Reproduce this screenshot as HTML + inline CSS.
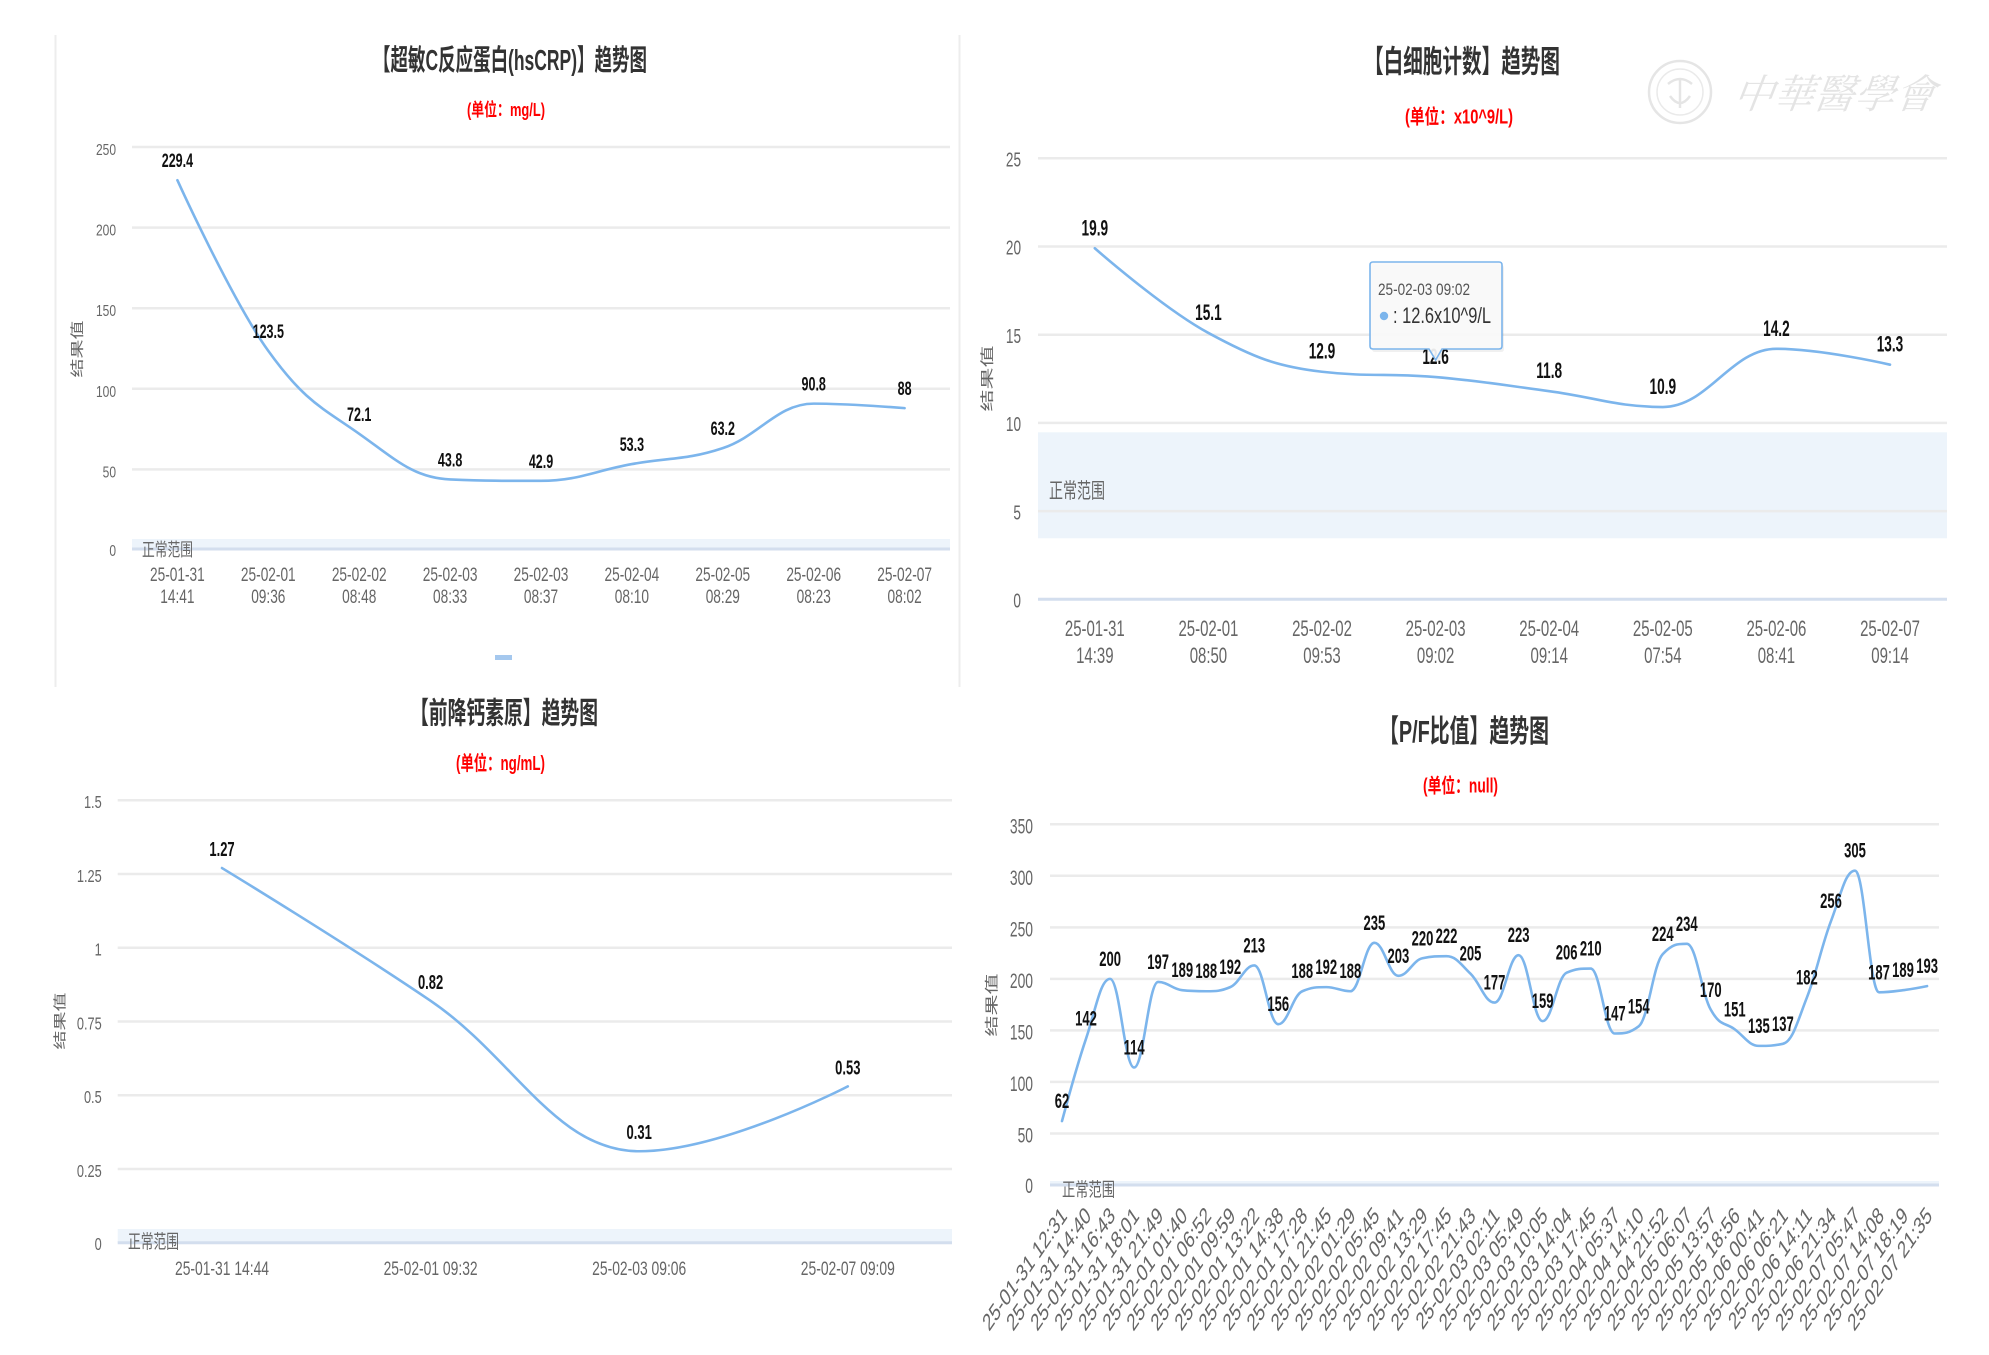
<!DOCTYPE html>
<html><head><meta charset="utf-8">
<style>
html,body{margin:0;padding:0;background:#fff;}
svg{display:block;}
text{font-family:"Liberation Sans","Noto Sans CJK SC",sans-serif;}
.ti{font-weight:bold;fill:#333;}
.un{font-weight:bold;fill:#ff0000;}
.tk{fill:#666;}
.dl{font-weight:bold;fill:#111;}
.nr{fill:#666;}
.grid{stroke:#ebebeb;stroke-width:2.5;}
.ax{stroke:#d3deee;stroke-width:3;}
.band{fill:#edf4fb;}
.ln{fill:none;stroke:#7cb5ec;stroke-width:2.6;stroke-linejoin:round;stroke-linecap:round;}
</style></head>
<body>
<svg id="s" width="1989" height="1355" viewBox="0 0 1989 1355" xmlns="http://www.w3.org/2000/svg">
<rect width="1989" height="1355" fill="#fff"/>

<!-- panel borders -->
<line x1="55.5" y1="35" x2="55.5" y2="687" stroke="#ededed" stroke-width="2"/>
<line x1="959.5" y1="35" x2="959.5" y2="687" stroke="#ededed" stroke-width="2"/>

<!-- ============ CHART 1 hsCRP ============ -->
<text class="ti" x="373" y="70" font-size="29" textLength="274" lengthAdjust="spacingAndGlyphs">【超敏C反应蛋白(hsCRP)】趋势图</text>
<text class="un" x="467" y="116" font-size="18" textLength="78" lengthAdjust="spacingAndGlyphs">(单位：mg/L)</text>
<rect class="band" x="132" y="539" width="818" height="10"/>
<line class="grid" x1="132" y1="147" x2="950" y2="147"/>
<line class="grid" x1="132" y1="227.6" x2="950" y2="227.6"/>
<line class="grid" x1="132" y1="308.2" x2="950" y2="308.2"/>
<line class="grid" x1="132" y1="388.8" x2="950" y2="388.8"/>
<line class="grid" x1="132" y1="469.4" x2="950" y2="469.4"/>
<line class="ax" x1="132" y1="549" x2="950" y2="549" stroke-width="2"/>
<g class="tk" font-size="16" text-anchor="end">
<text transform="translate(116,155) scale(0.75,1)">250</text>
<text transform="translate(116,235.6) scale(0.75,1)">200</text>
<text transform="translate(116,316.2) scale(0.75,1)">150</text>
<text transform="translate(116,396.8) scale(0.75,1)">100</text>
<text transform="translate(116,477.4) scale(0.75,1)">50</text>
<text transform="translate(116,556) scale(0.75,1)">0</text>
</g>
<text class="nr" x="142" y="556" font-size="18" textLength="51" lengthAdjust="spacingAndGlyphs">正常范围</text>
<text class="tk" transform="translate(82,349) scale(0.72,1) rotate(-90)" font-size="19" text-anchor="middle">结果值</text>
<g class="tk" font-size="19" text-anchor="middle">
<text transform="translate(177.4,581) scale(0.72,1)">25-01-31</text>
<text transform="translate(177.4,603) scale(0.72,1)">14:41</text>
<text transform="translate(268.3,581) scale(0.72,1)">25-02-01</text>
<text transform="translate(268.3,603) scale(0.72,1)">09:36</text>
<text transform="translate(359.2,581) scale(0.72,1)">25-02-02</text>
<text transform="translate(359.2,603) scale(0.72,1)">08:48</text>
<text transform="translate(450.1,581) scale(0.72,1)">25-02-03</text>
<text transform="translate(450.1,603) scale(0.72,1)">08:33</text>
<text transform="translate(541,581) scale(0.72,1)">25-02-03</text>
<text transform="translate(541,603) scale(0.72,1)">08:37</text>
<text transform="translate(631.9,581) scale(0.72,1)">25-02-04</text>
<text transform="translate(631.9,603) scale(0.72,1)">08:10</text>
<text transform="translate(722.8,581) scale(0.72,1)">25-02-05</text>
<text transform="translate(722.8,603) scale(0.72,1)">08:29</text>
<text transform="translate(813.7,581) scale(0.72,1)">25-02-06</text>
<text transform="translate(813.7,603) scale(0.72,1)">08:23</text>
<text transform="translate(904.6,581) scale(0.72,1)">25-02-07</text>
<text transform="translate(904.6,603) scale(0.72,1)">08:02</text>
</g>
<path id="l1" class="ln" d=""/>
<g class="dl" font-size="19" text-anchor="middle">
<text transform="translate(177.4,167.2) scale(0.66,1)">229.4</text>
<text transform="translate(268.3,337.9) scale(0.66,1)">123.5</text>
<text transform="translate(359.2,420.8) scale(0.66,1)">72.1</text>
<text transform="translate(450.1,466.4) scale(0.66,1)">43.8</text>
<text transform="translate(541,467.8) scale(0.66,1)">42.9</text>
<text transform="translate(631.9,451.1) scale(0.66,1)">53.3</text>
<text transform="translate(722.8,435.1) scale(0.66,1)">63.2</text>
<text transform="translate(813.7,390.6) scale(0.66,1)">90.8</text>
<text transform="translate(904.6,395.1) scale(0.66,1)">88</text>
</g>
<rect x="495" y="655" width="17" height="5" fill="#a5c8ee"/>

<!-- ============ CHART 2 WBC ============ -->
<!-- watermark -->
<g opacity="0.9">
<circle cx="1680" cy="92" r="31" fill="none" stroke="#e3e3e3" stroke-width="2.5"/>
<circle cx="1680" cy="92" r="23" fill="none" stroke="#e8e8e8" stroke-width="1.5"/>
<path d="M1668,84 Q1680,74 1692,84 M1680,78 L1680,108 M1670,96 Q1680,110 1690,96" fill="none" stroke="#e3e3e3" stroke-width="2.5"/>
<text x="1733" y="108" font-size="40" fill="#e2e2e2" textLength="202" lengthAdjust="spacingAndGlyphs" style="font-family:'Noto Serif CJK TC','Noto Serif CJK SC',serif;font-style:italic" transform="skewX(-8) translate(14,0)">中華醫學會</text>
</g>
<text class="ti" x="1364" y="72.5" font-size="31" textLength="196" lengthAdjust="spacingAndGlyphs">【白细胞计数】趋势图</text>
<text class="un" x="1405" y="123.5" font-size="20" textLength="108" lengthAdjust="spacingAndGlyphs">(单位：x10^9/L)</text>
<rect class="band" x="1038" y="432.3" width="909" height="106"/>
<line class="grid" x1="1038" y1="158.3" x2="1947" y2="158.3"/>
<line class="grid" x1="1038" y1="246.5" x2="1947" y2="246.5"/>
<line class="grid" x1="1038" y1="334.7" x2="1947" y2="334.7"/>
<line class="grid" x1="1038" y1="422.9" x2="1947" y2="422.9"/>
<line class="grid" x1="1038" y1="511.1" x2="1947" y2="511.1" stroke="#e6ebf0"/>
<line class="ax" x1="1038" y1="599.3" x2="1947" y2="599.3"/>
<g class="tk" font-size="20" text-anchor="end">
<text transform="translate(1021,166.5) scale(0.68,1)">25</text>
<text transform="translate(1021,254.7) scale(0.68,1)">20</text>
<text transform="translate(1021,342.9) scale(0.68,1)">15</text>
<text transform="translate(1021,431.1) scale(0.68,1)">10</text>
<text transform="translate(1021,519.3) scale(0.68,1)">5</text>
<text transform="translate(1021,607.5) scale(0.68,1)">0</text>
</g>
<text class="nr" x="1049" y="498" font-size="21" textLength="56" lengthAdjust="spacingAndGlyphs">正常范围</text>
<text class="tk" transform="translate(992,378.5) scale(0.62,1) rotate(-90)" font-size="22" text-anchor="middle">结果值</text>
<g class="tk" font-size="22" text-anchor="middle">
<text transform="translate(1094.8,636) scale(0.68,1)">25-01-31</text>
<text transform="translate(1094.8,663) scale(0.68,1)">14:39</text>
<text transform="translate(1208.4,636) scale(0.68,1)">25-02-01</text>
<text transform="translate(1208.4,663) scale(0.68,1)">08:50</text>
<text transform="translate(1322,636) scale(0.68,1)">25-02-02</text>
<text transform="translate(1322,663) scale(0.68,1)">09:53</text>
<text transform="translate(1435.6,636) scale(0.68,1)">25-02-03</text>
<text transform="translate(1435.6,663) scale(0.68,1)">09:02</text>
<text transform="translate(1549.2,636) scale(0.68,1)">25-02-04</text>
<text transform="translate(1549.2,663) scale(0.68,1)">09:14</text>
<text transform="translate(1662.8,636) scale(0.68,1)">25-02-05</text>
<text transform="translate(1662.8,663) scale(0.68,1)">07:54</text>
<text transform="translate(1776.4,636) scale(0.68,1)">25-02-06</text>
<text transform="translate(1776.4,663) scale(0.68,1)">08:41</text>
<text transform="translate(1890,636) scale(0.68,1)">25-02-07</text>
<text transform="translate(1890,663) scale(0.68,1)">09:14</text>
</g>
<path id="l2" class="ln" d="" stroke-width="3"/>
<g class="dl" font-size="22" text-anchor="middle">
<text transform="translate(1094.8,235.3) scale(0.62,1)">19.9</text>
<text transform="translate(1208.4,319.9) scale(0.62,1)">15.1</text>
<text transform="translate(1322,358.7) scale(0.62,1)">12.9</text>
<text transform="translate(1435.6,364) scale(0.62,1)">12.6</text>
<text transform="translate(1549.2,378.1) scale(0.62,1)">11.8</text>
<text transform="translate(1662.8,394) scale(0.62,1)">10.9</text>
<text transform="translate(1776.4,335.8) scale(0.62,1)">14.2</text>
<text transform="translate(1890,351.7) scale(0.62,1)">13.3</text>
</g>
<!-- tooltip -->
<path d="M1375,265 H1501 Q1504,265 1504,268 V349 Q1504,352 1501,352 H1444 L1437.6,363 L1431,352 H1375 Q1372,352 1372,349 V268 Q1372,265 1375,265 Z" fill="rgba(0,0,0,0.06)"/>
<path d="M1373,262 H1499 Q1502,262 1502,265 V346 Q1502,349 1499,349 H1442 L1435.6,360 L1429,349 H1373 Q1370,349 1370,346 V265 Q1370,262 1373,262 Z" fill="rgba(250,250,250,0.92)" stroke="#7cb5ec" stroke-width="1.6"/>
<text x="1378" y="295" font-size="17" fill="#555" textLength="92" lengthAdjust="spacingAndGlyphs">25-02-03 09:02</text>
<circle cx="1384" cy="316" r="4.2" fill="#7cb5ec"/>
<text x="1393" y="323" font-size="22" fill="#333" textLength="98" lengthAdjust="spacingAndGlyphs">: 12.6x10^9/L</text>

<!-- ============ CHART 3 PCT ============ -->
<text class="ti" x="410" y="723.5" font-size="30" textLength="188" lengthAdjust="spacingAndGlyphs">【前降钙素原】趋势图</text>
<text class="un" x="456" y="770" font-size="20" textLength="89" lengthAdjust="spacingAndGlyphs">(单位：ng/mL)</text>
<rect class="band" x="117.7" y="1229" width="834.3" height="14"/>
<line class="grid" x1="117.7" y1="800.2" x2="952" y2="800.2"/>
<line class="grid" x1="117.7" y1="873.95" x2="952" y2="873.95"/>
<line class="grid" x1="117.7" y1="947.7" x2="952" y2="947.7"/>
<line class="grid" x1="117.7" y1="1021.45" x2="952" y2="1021.45"/>
<line class="grid" x1="117.7" y1="1095.2" x2="952" y2="1095.2"/>
<line class="grid" x1="117.7" y1="1168.95" x2="952" y2="1168.95"/>
<line class="ax" x1="117.7" y1="1242.7" x2="952" y2="1242.7" stroke-width="2.5"/>
<g class="tk" font-size="18" text-anchor="end">
<text transform="translate(101.7,808.2) scale(0.71,1)">1.5</text>
<text transform="translate(101.7,882) scale(0.71,1)">1.25</text>
<text transform="translate(101.7,955.7) scale(0.71,1)">1</text>
<text transform="translate(101.7,1029.5) scale(0.71,1)">0.75</text>
<text transform="translate(101.7,1103.2) scale(0.71,1)">0.5</text>
<text transform="translate(101.7,1177) scale(0.71,1)">0.25</text>
<text transform="translate(101.7,1250) scale(0.71,1)">0</text>
</g>
<text class="nr" x="128" y="1248" font-size="19" textLength="51" lengthAdjust="spacingAndGlyphs">正常范围</text>
<text class="tk" transform="translate(64.3,1021) scale(0.7,1) rotate(-90)" font-size="19" text-anchor="middle">结果值</text>
<g class="tk" font-size="19" text-anchor="middle">
<text transform="translate(222,1275) scale(0.73,1)">25-01-31 14:44</text>
<text transform="translate(430.6,1275) scale(0.73,1)">25-02-01 09:32</text>
<text transform="translate(639.2,1275) scale(0.73,1)">25-02-03 09:06</text>
<text transform="translate(847.8,1275) scale(0.73,1)">25-02-07 09:09</text>
</g>
<path id="l3" class="ln" d=""/>
<g class="dl" font-size="20" text-anchor="middle">
<text transform="translate(222,856) scale(0.65,1)">1.27</text>
<text transform="translate(430.6,988.8) scale(0.65,1)">0.82</text>
<text transform="translate(639.2,1139.2) scale(0.65,1)">0.31</text>
<text transform="translate(847.8,1074.3) scale(0.65,1)">0.53</text>
</g>

<!-- ============ CHART 4 P/F ============ -->
<text class="ti" x="1379" y="742" font-size="31" textLength="170" lengthAdjust="spacingAndGlyphs">【P/F比值】趋势图</text>
<text class="un" x="1423" y="792.5" font-size="20" textLength="75" lengthAdjust="spacingAndGlyphs">(单位：null)</text>
<line class="grid" x1="1050" y1="824.3" x2="1939" y2="824.3"/>
<line class="grid" x1="1050" y1="875.8" x2="1939" y2="875.8"/>
<line class="grid" x1="1050" y1="927.35" x2="1939" y2="927.35"/>
<line class="grid" x1="1050" y1="978.9" x2="1939" y2="978.9"/>
<line class="grid" x1="1050" y1="1030.4" x2="1939" y2="1030.4"/>
<line class="grid" x1="1050" y1="1081.9" x2="1939" y2="1081.9"/>
<line class="grid" x1="1050" y1="1133.5" x2="1939" y2="1133.5"/>
<rect class="band" x="1050" y="1181" width="889" height="4"/>
<line class="ax" x1="1050" y1="1185" x2="1939" y2="1185"/>
<g class="tk" font-size="21" text-anchor="end">
<text transform="translate(1033,833.3) scale(0.66,1)">350</text>
<text transform="translate(1033,884.8) scale(0.66,1)">300</text>
<text transform="translate(1033,936.4) scale(0.66,1)">250</text>
<text transform="translate(1033,987.9) scale(0.66,1)">200</text>
<text transform="translate(1033,1039.4) scale(0.66,1)">150</text>
<text transform="translate(1033,1090.9) scale(0.66,1)">100</text>
<text transform="translate(1033,1142.5) scale(0.66,1)">50</text>
<text transform="translate(1033,1193) scale(0.66,1)">0</text>
</g>
<text class="nr" x="1062" y="1196" font-size="19" textLength="53" lengthAdjust="spacingAndGlyphs">正常范围</text>
<text class="tk" transform="translate(996.5,1005) scale(0.66,1) rotate(-90)" font-size="21" text-anchor="middle">结果值</text>
<g class="tk" font-size="24" text-anchor="end">
<text transform="translate(1068,1217) scale(0.685,1) rotate(-45)">25-01-31 12:31</text>
<text transform="translate(1092,1217) scale(0.685,1) rotate(-45)">25-01-31 14:40</text>
<text transform="translate(1116.1,1217) scale(0.685,1) rotate(-45)">25-01-31 16:43</text>
<text transform="translate(1140.1,1217) scale(0.685,1) rotate(-45)">25-01-31 18:01</text>
<text transform="translate(1164.1,1217) scale(0.685,1) rotate(-45)">25-01-31 21:49</text>
<text transform="translate(1188.2,1217) scale(0.685,1) rotate(-45)">25-02-01 01:40</text>
<text transform="translate(1212.2,1217) scale(0.685,1) rotate(-45)">25-02-01 06:52</text>
<text transform="translate(1236.2,1217) scale(0.685,1) rotate(-45)">25-02-01 09:59</text>
<text transform="translate(1260.2,1217) scale(0.685,1) rotate(-45)">25-02-01 13:22</text>
<text transform="translate(1284.3,1217) scale(0.685,1) rotate(-45)">25-02-01 14:38</text>
<text transform="translate(1308.3,1217) scale(0.685,1) rotate(-45)">25-02-01 17:28</text>
<text transform="translate(1332.3,1217) scale(0.685,1) rotate(-45)">25-02-01 21:45</text>
<text transform="translate(1356.4,1217) scale(0.685,1) rotate(-45)">25-02-02 01:29</text>
<text transform="translate(1380.4,1217) scale(0.685,1) rotate(-45)">25-02-02 05:45</text>
<text transform="translate(1404.4,1217) scale(0.685,1) rotate(-45)">25-02-02 09:41</text>
<text transform="translate(1428.5,1217) scale(0.685,1) rotate(-45)">25-02-02 13:29</text>
<text transform="translate(1452.5,1217) scale(0.685,1) rotate(-45)">25-02-02 17:45</text>
<text transform="translate(1476.5,1217) scale(0.685,1) rotate(-45)">25-02-02 21:43</text>
<text transform="translate(1500.5,1217) scale(0.685,1) rotate(-45)">25-02-03 02:11</text>
<text transform="translate(1524.6,1217) scale(0.685,1) rotate(-45)">25-02-03 05:49</text>
<text transform="translate(1548.6,1217) scale(0.685,1) rotate(-45)">25-02-03 10:05</text>
<text transform="translate(1572.6,1217) scale(0.685,1) rotate(-45)">25-02-03 14:04</text>
<text transform="translate(1596.7,1217) scale(0.685,1) rotate(-45)">25-02-03 17:45</text>
<text transform="translate(1620.7,1217) scale(0.685,1) rotate(-45)">25-02-04 05:37</text>
<text transform="translate(1644.7,1217) scale(0.685,1) rotate(-45)">25-02-04 14:10</text>
<text transform="translate(1668.8,1217) scale(0.685,1) rotate(-45)">25-02-04 21:52</text>
<text transform="translate(1692.8,1217) scale(0.685,1) rotate(-45)">25-02-05 06:07</text>
<text transform="translate(1716.8,1217) scale(0.685,1) rotate(-45)">25-02-05 13:57</text>
<text transform="translate(1740.8,1217) scale(0.685,1) rotate(-45)">25-02-05 18:56</text>
<text transform="translate(1764.9,1217) scale(0.685,1) rotate(-45)">25-02-06 00:41</text>
<text transform="translate(1788.9,1217) scale(0.685,1) rotate(-45)">25-02-06 06:21</text>
<text transform="translate(1812.9,1217) scale(0.685,1) rotate(-45)">25-02-06 14:11</text>
<text transform="translate(1837,1217) scale(0.685,1) rotate(-45)">25-02-06 21:34</text>
<text transform="translate(1861,1217) scale(0.685,1) rotate(-45)">25-02-07 05:47</text>
<text transform="translate(1885,1217) scale(0.685,1) rotate(-45)">25-02-07 14:08</text>
<text transform="translate(1909,1217) scale(0.685,1) rotate(-45)">25-02-07 18:19</text>
<text transform="translate(1933.1,1217) scale(0.685,1) rotate(-45)">25-02-07 21:35</text>
</g>
<path id="l4" class="ln" d=""/>
<g class="dl" font-size="21" text-anchor="middle">
<text transform="translate(1062,1108.1) scale(0.62,1)">62</text>
<text transform="translate(1086,1025.7) scale(0.62,1)">142</text>
<text transform="translate(1110.1,965.9) scale(0.62,1)">200</text>
<text transform="translate(1134.1,1054.5) scale(0.62,1)">114</text>
<text transform="translate(1158.1,969) scale(0.62,1)">197</text>
<text transform="translate(1182.2,977.2) scale(0.62,1)">189</text>
<text transform="translate(1206.2,978.2) scale(0.62,1)">188</text>
<text transform="translate(1230.2,974.1) scale(0.62,1)">192</text>
<text transform="translate(1254.2,952.5) scale(0.62,1)">213</text>
<text transform="translate(1278.3,1011.2) scale(0.62,1)">156</text>
<text transform="translate(1302.3,978.2) scale(0.62,1)">188</text>
<text transform="translate(1326.3,974.1) scale(0.62,1)">192</text>
<text transform="translate(1350.4,978.2) scale(0.62,1)">188</text>
<text transform="translate(1374.4,929.8) scale(0.62,1)">235</text>
<text transform="translate(1398.4,962.8) scale(0.62,1)">203</text>
<text transform="translate(1422.5,945.3) scale(0.62,1)">220</text>
<text transform="translate(1446.5,943.2) scale(0.62,1)">222</text>
<text transform="translate(1470.5,960.7) scale(0.62,1)">205</text>
<text transform="translate(1494.5,989.6) scale(0.62,1)">177</text>
<text transform="translate(1518.6,942.2) scale(0.62,1)">223</text>
<text transform="translate(1542.6,1008.1) scale(0.62,1)">159</text>
<text transform="translate(1566.6,959.7) scale(0.62,1)">206</text>
<text transform="translate(1590.7,955.6) scale(0.62,1)">210</text>
<text transform="translate(1614.7,1020.5) scale(0.62,1)">147</text>
<text transform="translate(1638.7,1013.3) scale(0.62,1)">154</text>
<text transform="translate(1662.8,941.1) scale(0.62,1)">224</text>
<text transform="translate(1686.8,930.8) scale(0.62,1)">234</text>
<text transform="translate(1710.8,996.8) scale(0.62,1)">170</text>
<text transform="translate(1734.8,1016.4) scale(0.62,1)">151</text>
<text transform="translate(1758.9,1032.9) scale(0.62,1)">135</text>
<text transform="translate(1782.9,1030.8) scale(0.62,1)">137</text>
<text transform="translate(1806.9,984.4) scale(0.62,1)">182</text>
<text transform="translate(1831,908.2) scale(0.62,1)">256</text>
<text transform="translate(1855,857.7) scale(0.62,1)">305</text>
<text transform="translate(1879,979.3) scale(0.62,1)">187</text>
<text transform="translate(1903,977.2) scale(0.62,1)">189</text>
<text transform="translate(1927.1,973.1) scale(0.62,1)">193</text>
</g>
</svg>
<script>
function spline(p){
  var s=1.5,dn=s+1,d='M'+p[0][0].toFixed(2)+' '+p[0][1].toFixed(2),prev=null;
  for(var i=1;i<p.length;i++){
    var x=p[i][0],y=p[i][1],lx=p[i-1][0],ly=p[i-1][1],lcx=x,lcy=y,rc=null;
    if(i<p.length-1){
      var nx=p[i+1][0],ny=p[i+1][1];
      lcx=(s*x+lx)/dn;lcy=(s*y+ly)/dn;var rcx=(s*x+nx)/dn,rcy=(s*y+ny)/dn,c=0;
      if(rcx!==lcx)c=((rcy-lcy)*(rcx-x))/(rcx-lcx)+y-rcy;
      lcy+=c;rcy+=c;
      if(lcy>ly&&lcy>y){lcy=Math.max(ly,y);rcy=2*y-lcy;}else if(lcy<ly&&lcy<y){lcy=Math.min(ly,y);rcy=2*y-lcy;}
      if(rcy>ny&&rcy>y){rcy=Math.max(ny,y);lcy=2*y-rcy;}else if(rcy<ny&&rcy<y){rcy=Math.min(ny,y);lcy=2*y-rcy;}
      rc=[rcx,rcy];
    }
    var p0=prev||[lx,ly];
    d+=' C'+p0[0].toFixed(2)+' '+p0[1].toFixed(2)+' '+lcx.toFixed(2)+' '+lcy.toFixed(2)+' '+x.toFixed(2)+' '+y.toFixed(2);
    prev=rc;
  }
  return d;
}
function build(id,vals,x0,dx,y0,sc){
  var pts=[];for(var i=0;i<vals.length;i++)pts.push([x0+i*dx,y0-vals[i]*sc]);
  document.getElementById(id).setAttribute('d',spline(pts));
}
build('l1',[229.4,123.5,72.1,43.8,42.9,53.3,63.2,90.8,88],177.4,90.9,550,1.612);
build('l2',[19.9,15.1,12.9,12.6,11.8,10.9,14.2,13.3],1094.8,113.6,599.3,17.64);
build('l3',[1.27,0.82,0.31,0.53],222,208.6,1242.7,295);
build('l4',[62,142,200,114,197,189,188,192,213,156,188,192,188,235,203,220,222,205,177,223,159,206,210,147,154,224,234,170,151,135,137,182,256,305,187,189,193],1062,24.03,1185,1.0306);
</script>
</body></html>
